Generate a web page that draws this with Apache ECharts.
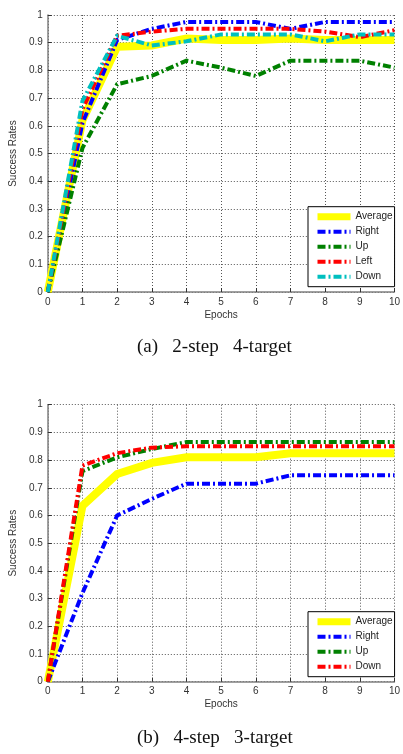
<!DOCTYPE html>
<html>
<head>
<meta charset="utf-8">
<script src="https://cdn.jsdelivr.net/npm/echarts@6/dist/echarts.min.js"></script>
<style>
html,body{margin:0;padding:0;background:#fff;}
#c{width:403px;height:754px;}
</style>
</head>
<body>
<div id="c"></div>
<script>
// ---- data ----
var epochs = [0,1,2,3,4,5,6,7,8,9,10];

// (a) 2-step 4-target
var aAverage = [0, 0.62, 0.885, 0.89, 0.915, 0.91, 0.91, 0.915, 0.91, 0.91, 0.91];
var aRight   = [0, 0.61, 0.91, 0.95, 0.975, 0.975, 0.975, 0.95, 0.975, 0.975, 0.975];
var aUp      = [0, 0.52, 0.75, 0.78, 0.835, 0.81, 0.78, 0.835, 0.835, 0.835, 0.81];
var aLeft    = [0, 0.66, 0.925, 0.94, 0.95, 0.95, 0.95, 0.95, 0.94, 0.92, 0.945];
var aDown    = [0, 0.69, 0.925, 0.89, 0.905, 0.93, 0.93, 0.93, 0.905, 0.93, 0.93];

// (b) 4-step 3-target
var bAverage = [0, 0.635, 0.75, 0.79, 0.81, 0.81, 0.81, 0.825, 0.825, 0.825, 0.825];
var bRight   = [0, 0.32, 0.6, 0.66, 0.715, 0.715, 0.715, 0.745, 0.745, 0.745, 0.745];
var bUp      = [0, 0.76, 0.81, 0.84, 0.865, 0.865, 0.865, 0.865, 0.865, 0.865, 0.865];
var bDown    = [0, 0.78, 0.825, 0.845, 0.85, 0.85, 0.85, 0.85, 0.85, 0.85, 0.85];

var legendA = ['Average','Right','Up','Left','Down'];
var legendB = ['Average','Right','Up','Down '];
var captionA = '(a)   2-step   4-target';
var captionB = '(b)   4-step   3-target';
var xName = 'Epochs';
var yName = 'Success Rates';

// ---- styling ----
var C = {Average:'#ffff00', Right:'#0000ff', Up:'#008000', Left:'#ff0000', Down:'#00bfbf'};
var dashDot = [8,3,2,3];
var sans = 'Liberation Sans';

function pairs(vals){ return vals.map(function(v,i){ return [epochs[i], v]; }); }

function mkSeries(name, vals, idx, color){
  var isAvg = name === 'Average';
  return {
    type:'line', name:name, xAxisIndex:idx, yAxisIndex:idx,
    data:pairs(vals), symbol:'none', smooth:false,
    itemStyle:{color:color},
    lineStyle:{color:color, width:isAvg?8:4, type:isAvg?'solid':dashDot, cap:'butt', join:'miter'},
    z: isAvg?2:3, animation:false
  };
}

var gridDefs = [{top:15, h:277}, {top:404.7, h:277}];

function xAx(i){
  return {
    type:'value', gridIndex:i, min:0, max:10, interval:1,
    name:xName, nameLocation:'middle', nameGap:18,
    nameTextStyle:{fontFamily:sans, fontSize:10, color:'#333'},
    axisLine:{show:true, lineStyle:{color:'#808080', width:1.5}},
    axisTick:{show:true, inside:true, length:4, lineStyle:{color:'#333'}},
    axisLabel:{fontFamily:sans, fontSize:10, color:'#333', margin:5},
    splitLine:{show:true, lineStyle:{color:'#555', type:[1,2], width:1}}
  };
}
function yAx(i){
  return {
    type:'value', gridIndex:i, min:0, max:1, interval:0.1,
    name:yName, nameLocation:'middle', nameGap:17,
    nameTextStyle:{fontFamily:sans, fontSize:10, color:'#333'},
    axisLine:{show:true, lineStyle:{color:'#808080', width:1.5}},
    axisTick:{show:true, inside:true, length:4, lineStyle:{color:'#333'}},
    axisLabel:{fontFamily:sans, fontSize:10, color:'#333', margin:5,
      formatter:function(v){ return String(Math.round(v*10)/10); }},
    splitLine:{show:true, lineStyle:{color:'#555', type:[1,2], width:1}}
  };
}

function legend(names, top){
  return {
    orient:'vertical', left:308, top:top,
    data:names.map(function(n){
      var isAvg = n === 'Average';
      return {name:n, lineStyle:{width:isAvg?7:4}};
    }),
    itemWidth:33, itemHeight:15, itemGap:0, selectedMode:false,
    itemStyle:{opacity:0},
    backgroundColor:'#fff', borderColor:'#000', borderWidth:1, borderRadius:0,
    padding:[2.5,2,2.5,6],
    textStyle:{fontFamily:sans, fontSize:10, color:'#222', lineHeight:15}
  };
}

var series = [
  mkSeries('Average', aAverage, 0, C.Average),
  mkSeries('Right', aRight, 0, C.Right),
  mkSeries('Up', aUp, 0, C.Up),
  mkSeries('Left', aLeft, 0, C.Left),
  mkSeries('Down', aDown, 0, C.Down),
  mkSeries('Average', bAverage, 1, C.Average),
  mkSeries('Right', bRight, 1, C.Right),
  mkSeries('Up', bUp, 1, C.Up),
  mkSeries('Down ', bDown, 1, C.Left)
];

var chart = echarts.init(document.getElementById('c'), null, {renderer:'canvas'});
chart.setOption({
  animation:false,
  backgroundColor:'#fff',
  grid: gridDefs.map(function(g){ return {left:45, width:352, top:g.top, height:g.h, containLabel:false}; }),
  xAxis:[xAx(0), xAx(1)],
  yAxis:[yAx(0), yAx(1)],
  legend:[ legend(legendA, 206.7), legend(legendB, 611.7) ],
  title:[
    {text:captionA, left:132, top:333, textStyle:{fontFamily:'Liberation Serif', fontSize:19, fontWeight:'normal', color:'#111'}},
    {text:captionB, left:132, top:724, textStyle:{fontFamily:'Liberation Serif', fontSize:19, fontWeight:'normal', color:'#111'}}
  ],
  series:series
});
</script>
</body>
</html>
